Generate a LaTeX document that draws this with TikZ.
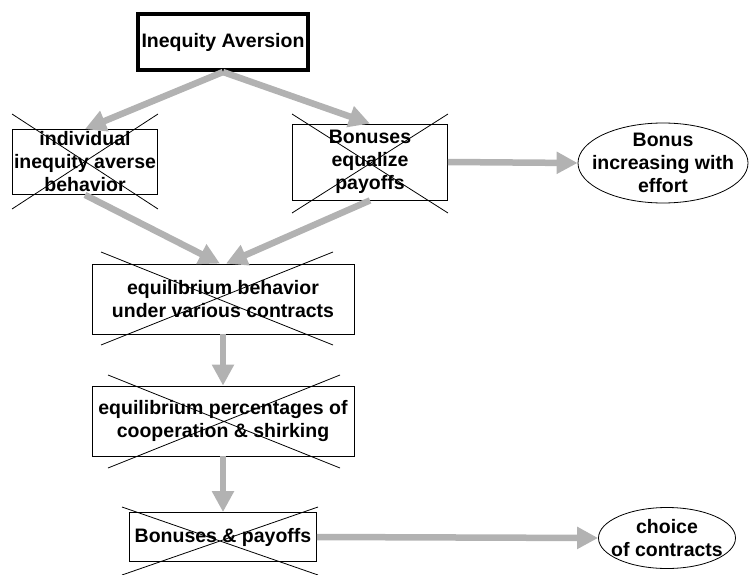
\documentclass[tikz,border=0pt]{standalone}
\usepackage{fontspec}
\setmainfont{Liberation Sans}
\usepackage{tikz}
\usetikzlibrary{arrows.meta,shapes.geometric}

\newcommand{\crossbox}[4]{\draw[cross] (#1,#2) -- (#3,#4) (#1,#4) -- (#3,#2);}

\begin{document}
\begin{tikzpicture}[x=1pt,y=-1pt,font=\fontsize{19.5}{23}\selectfont\bfseries, blank/.style={draw,line width=0.8pt,align=center,inner sep=0pt}, heavy/.style={draw,line width=4pt,align=center,inner sep=0pt}, oval/.style={ellipse,draw,line width=0.8pt,inner sep=0pt}, flow/.style={line width=6.5pt,draw=black!30,-{Triangle[length=21pt,width=21pt]}}, cross/.style={line width=0.8pt}]
\useasboundingbox (0,0) rectangle (749,575);

\node(ia)[heavy,minimum width=170pt,minimum height=56pt] at (223,42) {Inequity Aversion};
\node(ind)[blank,minimum width=145pt,minimum height=65pt] at (85,162) {individual\\inequity averse\\behavior};
\node(beq)[blank,minimum width=155pt,minimum height=76pt] at (370,162) {Bonuses\\equalize\\payoffs};
\node(bie)[oval,minimum width=170pt,minimum height=80pt,label={[align=center]center:Bonus\\increasing with\\effort}] at (663,163) {};
\node(eqb)[blank,minimum width=262pt,minimum height=70pt] at (223,299) {equilibrium behavior\\under various contracts};
\node(pct)[blank,minimum width=262pt,minimum height=70pt] at (223,421) {equilibrium percentages of\\cooperation \& shirking};
\node(bp)[blank,minimum width=187pt,minimum height=49pt] at (223,537) {Bonuses \& payoffs};
\node(cc)[oval,minimum width=137pt,minimum height=61pt,label={[align=center]center:choice\\of contracts}] at (667,538) {};

\draw [flow] (ia.south) to (ind.north);
\draw [flow] (ia.south) to (beq.north);
\draw [flow] (ind.south) to ([xshift=-3pt]eqb.north);
\draw [flow] (beq.south) to ([xshift=3pt]eqb.north);
\draw [flow] (beq.east) to (bie.west);
\draw [flow] (eqb.south) to (pct.north);
\draw [flow] (pct.south) to (bp.north);
\draw [flow] (bp.east) to (cc.west);

\crossbox{12}{114}{158}{209}
\crossbox{292}{114}{448}{213}
\crossbox{101}{252}{333}{345}
\crossbox{108}{375}{340}{468}
\crossbox{122}{507}{318}{575}
\end{tikzpicture}
\end{document}
